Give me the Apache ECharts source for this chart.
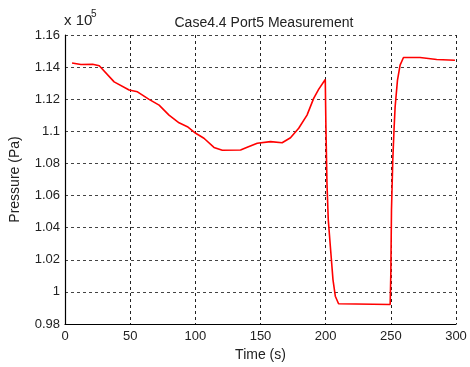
<!DOCTYPE html>
<html>
<head>
<meta charset="utf-8">
<script src="https://cdn.jsdelivr.net/npm/echarts@6/dist/echarts.min.js"></script>
<style>
  html, body { margin: 0; padding: 0; background: #fff; }
  #chart { width: 470px; height: 367px; }
</style>
</head>
<body>
<div id="chart"></div>
<script>
// Port 5 pressure trace, values in units of 1e5 Pa
const timeS = [5.4, 12.2, 21.2, 26.3, 37.7, 49.2, 55.6, 64.5, 72.2, 79.8, 87.5, 93.9, 100.3, 106.6, 114.3, 120.7, 134.7, 139.8, 147.5, 157.7, 166.6, 173, 179.3, 185.7, 190.8, 194.6, 199.7, 200.2, 201, 202, 203.6, 205.6, 207.4, 209.9, 249.5, 250, 250.5, 251.5, 252.5, 253.3, 255.1, 257.1, 259.7, 272.4, 285.2, 299.2];
const pressure = [1.1426, 1.1416, 1.1418, 1.1408, 1.1308, 1.1257, 1.1246, 1.1199, 1.1163, 1.1101, 1.1053, 1.1029, 1.0988, 1.0957, 1.0900, 1.0882, 1.0884, 1.0901, 1.0926, 1.0936, 1.0929, 1.0960, 1.1019, 1.1101, 1.1205, 1.1261, 1.1323, 1.1025, 1.0677, 1.0449, 1.0283, 1.0077, 0.9973, 0.9926, 0.9921, 1.0118, 1.0511, 1.0822, 1.1019, 1.1153, 1.1319, 1.1412, 1.1460, 1.1460, 1.1447, 1.1443];
const xTicks = { min: 0, max: 300, step: 50 };
const yTicks = { min: 0.98, max: 1.16, step: 0.02 };

const font = 'Liberation Sans, Arial, Helvetica, sans-serif';
const chart = echarts.init(document.getElementById('chart'));
chart.setOption({
  animation: false,
  backgroundColor: '#fff',
  title: {
    text: 'Case4.4 Port5 Measurement',
    left: 259, top: 11, textAlign: 'center',
    textStyle: { fontFamily: font, fontSize: 14, fontWeight: 'normal', color: '#222' }
  },
  graphic: [
    { type: 'text', left: 64, top: 13, style: { text: 'x 10', font: '15px ' + font, fill: '#222' } },
    { type: 'text', left: 91, top: 9, style: { text: '5', font: '10px ' + font, fill: '#222' } }
  ],
  grid: { left: 64, top: 35, right: 14, bottom: 42, containLabel: false },
  xAxis: {
    type: 'value',
    min: xTicks.min, max: xTicks.max, interval: xTicks.step,
    name: 'Time (s)', nameLocation: 'middle', nameGap: 24,
    nameTextStyle: { fontFamily: font, fontSize: 14, color: '#222' },
    axisLine: { show: true, lineStyle: { color: '#000', width: 1.2 } },
    axisTick: { show: false },
    axisLabel: { fontFamily: font, fontSize: 13, color: '#222', margin: 6 },
    splitLine: { show: true, lineStyle: { color: '#222', type: [3, 3], width: 1 } }
  },
  yAxis: {
    type: 'value',
    min: yTicks.min, max: yTicks.max, interval: yTicks.step,
    name: 'Pressure (Pa)', nameLocation: 'middle', nameGap: 43,
    nameTextStyle: { fontFamily: font, fontSize: 14, color: '#222' },
    axisLine: { show: true, lineStyle: { color: '#000', width: 1.2 } },
    axisTick: { show: false },
    axisLabel: {
      fontFamily: font, fontSize: 13, color: '#222', margin: 5,
      formatter: v => String(+v.toFixed(2))
    },
    splitLine: { show: true, lineStyle: { color: '#444', type: [3, 3], width: 1 } }
  },
  series: [{
    type: 'line',
    data: timeS.map((t, i) => [t, pressure[i]]),
    showSymbol: false,
    lineStyle: { color: '#ff0000', width: 1.6 },
    z: 5
  }]
});
</script>
</body>
</html>
